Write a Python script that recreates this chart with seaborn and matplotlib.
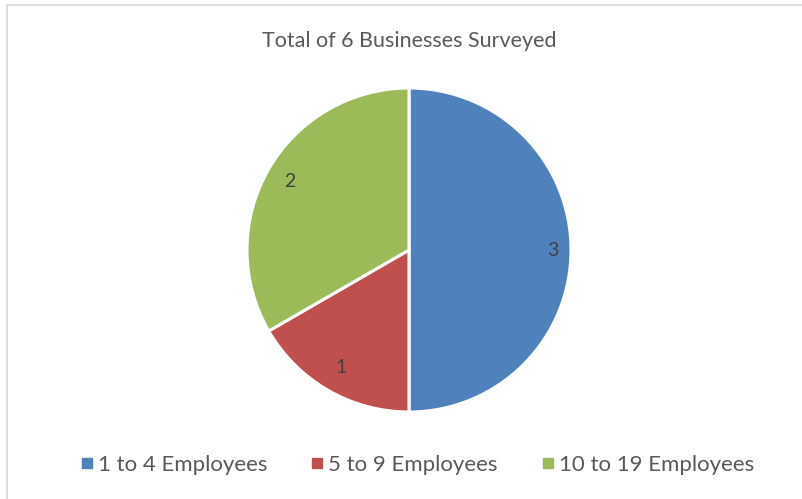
import matplotlib
matplotlib.use("Agg")
import matplotlib.pyplot as plt
import seaborn as sns
import numpy as np
from matplotlib.patches import Rectangle
from matplotlib.lines import Line2D

sns.set_theme(style="white")
plt.rcParams['font.family'] = ['Lato', 'DejaVu Sans']

categories = ["1 to 4 Employees", "5 to 9 Employees", "10 to 19 Employees"]
values = [3, 1, 2]
colors = ["#4F81BD", "#C0504D", "#9BBB59"]
title = "Total of 6 Businesses Surveyed"

W, H = 802, 499
fig = plt.figure(figsize=(W / 100, H / 100), dpi=100)
fig.patch.set_facecolor("white")

# light gray chart border (top and left visible, right/bottom run off the canvas)
fig.add_artist(Rectangle((6.5 / W, -0.02), 1.1, (H - 4.5) / H + 0.02,
                         transform=fig.transFigure, fill=False,
                         edgecolor="#D9D9D9", linewidth=1.3))

cx, cy, r = 409, 250, 162
ax = fig.add_axes([(cx - r) / W, (H - cy - r) / H, 2 * r / W, 2 * r / H])
wedges, texts = ax.pie(values, colors=colors, startangle=90, counterclock=False,
                       labels=[str(v) for v in values], labeldistance=0.86,
                       wedgeprops=dict(edgecolor="white", linewidth=2.2),
                       textprops=dict(color="#404040", fontsize=14))
# fine-tune label radial positions (Excel "best fit" style)
dists = [0.89, 0.84, 0.85]
for w, t, d in zip(wedges, texts, dists):
    ang = np.deg2rad((w.theta1 + w.theta2) / 2)
    t.set_position((d * np.cos(ang), d * np.sin(ang)))
    t.set_ha("center")
    t.set_va("center")
ax.set_xlim(-1.0, 1.0)
ax.set_ylim(-1.0, 1.0)
ax.set_aspect("equal")
ax.axis("off")

fig.text(cx / W, 1 - 41 / H, title, ha="center", va="center",
         fontsize=15.5, color="#595959")

handles = [Line2D([0], [0], marker="s", linestyle="", markersize=6.5,
                  markerfacecolor=c, markeredgecolor=c) for c in colors]
fig.legend(handles, categories, loc="center", bbox_to_anchor=(415 / W, 1 - 465 / H),
           ncol=3, frameon=False, fontsize=16, labelcolor="#595959",
           handletextpad=0.0, columnspacing=1.75, handlelength=1.0)

fig.savefig("out.png", dpi=100, facecolor="white")
